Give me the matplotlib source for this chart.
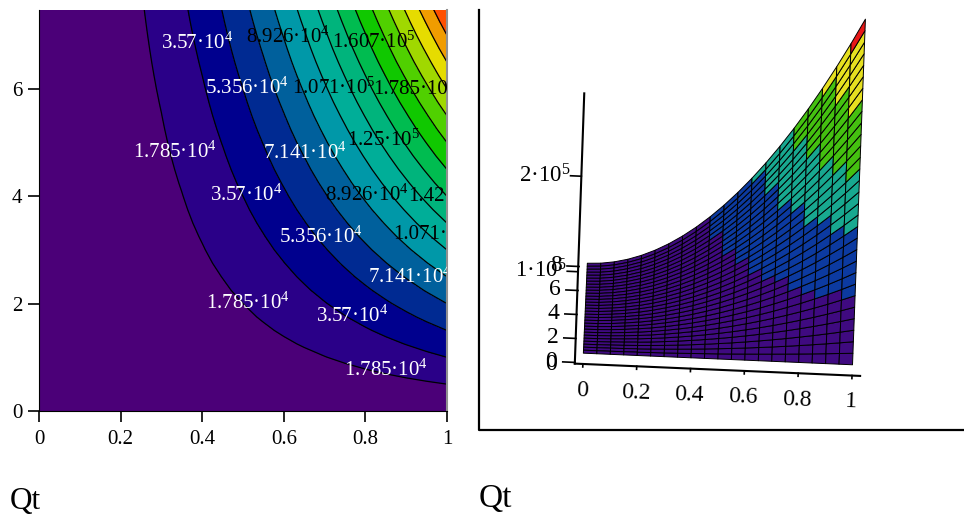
import numpy as np
import matplotlib
matplotlib.use('Agg')
import matplotlib.pyplot as plt
from matplotlib.lines import Line2D
from mpl_toolkits.mplot3d import proj3d

plt.rcParams['font.family'] = ['Liberation Serif', 'DejaVu Serif']
plt.rcParams['mathtext.default'] = 'regular'

W, H = 964, 516

# Values (Qt on x, second variable on y, z in thousands)
x_vals = [0, 0.05, 0.1, 0.15, 0.2, 0.25, 0.3, 0.35, 0.4, 0.45, 0.5, 0.55, 0.6, 0.65, 0.7, 0.75, 0.8, 0.85, 0.9, 0.95, 1]
y_vals = [0, 0.25, 0.5, 0.75, 1, 1.25, 1.5, 1.75, 2, 2.25, 2.5, 2.75, 3, 3.25, 3.5, 3.75, 4, 4.25, 4.5, 4.75, 5, 5.25,
          5.5, 5.75, 6, 6.25, 6.5, 6.75, 7, 7.25, 7.5]
z_vals = [
    [0, 0, 0, 0, 0, 0, 0, 0, 0, 0, 0, 0, 0, 0, 0, 0, 0, 0, 0, 0, 0],
    [0, .02, .09, .20, .36, .56, .80, 1.09, 1.43, 1.81, 2.23, 2.70, 3.21, 3.77, 4.37, 5.02, 5.71, 6.45, 7.23, 8.05, 8.93],
    [0, .04, .18, .40, .71, 1.12, 1.61, 2.19, 2.86, 3.61, 4.46, 5.40, 6.43, 7.54, 8.75, 10.04, 11.42, 12.90, 14.46, 16.11, 17.85],
    [0, .07, .27, .60, 1.07, 1.67, 2.41, 3.28, 4.28, 5.42, 6.69, 8.10, 9.64, 11.31, 13.12, 15.06, 17.14, 19.34, 21.69, 24.16, 26.78],
    [0, .09, .36, .80, 1.43, 2.23, 3.21, 4.37, 5.71, 7.23, 8.93, 10.80, 12.85, 15.08, 17.49, 20.08, 22.85, 25.79, 28.92, 32.22, 35.70],
    [0, .11, .45, 1.00, 1.79, 2.79, 4.02, 5.47, 7.14, 9.04, 11.16, 13.50, 16.07, 18.85, 21.87, 25.10, 28.56, 32.24, 36.15, 40.27, 44.63],
    [0, .13, .54, 1.20, 2.14, 3.35, 4.82, 6.56, 8.57, 10.84, 13.39, 16.20, 19.28, 22.62, 26.24, 30.12, 34.27, 38.69, 43.37, 48.33, 53.55],
    [0, .16, .62, 1.41, 2.50, 3.90, 5.62, 7.65, 10.00, 12.65, 15.62, 18.90, 22.49, 26.40, 30.61, 35.14, 39.98, 45.14, 50.60, 56.38, 62.48],
    [0, .18, .71, 1.61, 2.86, 4.46, 6.43, 8.75, 11.42, 14.46, 17.85, 21.60, 25.70, 30.17, 34.99, 40.16, 45.70, 51.59, 57.83, 64.44, 71.40],
    [0, .20, .80, 1.81, 3.21, 5.02, 7.23, 9.84, 12.85, 16.27, 20.08, 24.30, 28.92, 33.94, 39.36, 45.18, 51.41, 58.03, 65.06, 72.49, 80.33],
    [0, .22, .89, 2.01, 3.57, 5.58, 8.03, 10.93, 14.28, 18.07, 22.31, 27.00, 32.13, 37.71, 43.73, 50.20, 57.12, 64.48, 72.29, 80.55, 89.25],
    [0, .24, .98, 2.21, 3.93, 6.14, 8.84, 12.03, 15.71, 19.88, 24.54, 29.70, 35.34, 41.48, 48.11, 55.22, 62.83, 70.93, 79.52, 88.60, 98.18],
    [0, .27, 1.07, 2.41, 4.28, 6.69, 9.64, 13.12, 17.14, 21.69, 26.78, 32.40, 38.56, 45.25, 52.48, 60.24, 68.54, 77.38, 86.75, 96.66, 107.10],
    [0, .29, 1.16, 2.61, 4.64, 7.25, 10.44, 14.21, 18.56, 23.49, 29.01, 35.10, 41.77, 49.02, 56.85, 65.26, 74.26, 83.83, 93.98, 104.71, 116.03],
    [0, .31, 1.25, 2.81, 5.00, 7.81, 11.25, 15.31, 19.99, 25.30, 31.24, 37.80, 44.98, 52.79, 61.22, 70.28, 79.97, 90.27, 101.20, 112.80, 124.95],
    [0, .33, 1.34, 3.01, 5.36, 8.37, 12.05, 16.40, 21.42, 27.11, 33.47, 40.50, 48.20, 56.56, 65.60, 75.30, 85.68, 96.72, 108.44, 120.82, 133.88],
    [0, .36, 1.43, 3.21, 5.71, 8.93, 12.85, 17.49, 22.85, 28.92, 35.70, 43.20, 51.41, 60.33, 69.97, 80.33, 91.39, 103.20, 115.70, 128.90, 142.80],
    [0, .38, 1.52, 3.41, 6.07, 9.48, 13.66, 18.59, 24.28, 30.72, 37.93, 45.90, 54.62, 64.10, 74.35, 85.34, 97.10, 109.62, 122.90, 136.93, 151.73],
    [0, .40, 1.61, 3.61, 6.43, 10.04, 14.46, 19.68, 25.70, 32.53, 40.16, 48.60, 57.83, 67.87, 78.71, 90.36, 102.80, 116.10, 130.10, 145.00, 160.65],
    [0, .42, 1.70, 3.81, 6.78, 10.60, 15.26, 20.77, 27.13, 34.34, 42.39, 51.30, 61.05, 71.64, 83.09, 95.38, 108.53, 122.52, 137.36, 153.04, 169.58],
    [0, .45, 1.79, 4.02, 7.14, 11.16, 16.07, 21.87, 28.56, 36.15, 44.63, 54.00, 64.26, 75.41, 87.47, 100.40, 114.20, 129.00, 144.60, 161.10, 178.50],
    [0, .47, 1.87, 4.22, 7.50, 11.71, 16.87, 22.96, 29.99, 37.95, 46.86, 56.69, 67.47, 79.19, 91.84, 105.43, 119.95, 135.41, 151.81, 169.15, 187.43],
    [0, .49, 1.96, 4.42, 7.85, 12.27, 17.67, 24.05, 31.42, 39.76, 49.09, 59.40, 70.69, 82.96, 96.21, 110.40, 125.70, 141.90, 159.00, 177.20, 196.35],
    [0, .51, 2.05, 4.62, 8.21, 12.83, 18.47, 25.14, 32.84, 41.57, 51.32, 62.09, 73.90, 86.73, 100.58, 115.47, 131.38, 148.31, 166.27, 185.26, 205.28],
    [0, .54, 2.14, 4.82, 8.57, 13.39, 19.28, 26.24, 34.27, 43.37, 53.55, 64.80, 77.11, 90.50, 105.00, 120.50, 137.10, 154.80, 173.50, 193.30, 214.20],
    [0, .56, 2.23, 5.02, 8.93, 13.94, 20.08, 27.33, 35.70, 45.18, 55.78, 67.49, 80.33, 94.27, 109.33, 125.51, 142.80, 161.21, 180.73, 201.37, 223.13],
    [0, .58, 2.32, 5.22, 9.28, 14.51, 20.89, 28.43, 37.13, 46.99, 58.01, 70.20, 83.54, 98.04, 113.70, 130.50, 148.50, 167.70, 188.00, 209.40, 232.05],
    [0, .60, 2.41, 5.42, 9.64, 15.06, 21.69, 29.52, 38.56, 48.80, 60.24, 72.89, 86.75, 101.81, 118.08, 135.55, 154.22, 174.10, 195.19, 217.48, 240.98],
    [0, .62, 2.50, 5.62, 10.00, 15.62, 22.49, 30.61, 39.98, 50.60, 62.48, 75.60, 89.96, 105.60, 122.40, 140.60, 159.90, 180.60, 202.40, 225.50, 249.90],
    [0, .65, 2.59, 5.82, 10.35, 16.17, 23.29, 31.70, 41.41, 52.41, 64.71, 78.29, 93.18, 109.35, 126.82, 145.59, 165.65, 187.00, 209.65, 233.59, 258.83],
    [0, .67, 2.68, 6.02, 10.71, 16.73, 24.10, 32.80, 42.84, 54.21, 66.94, 81.00, 96.39, 113.10, 131.20, 150.60, 171.40, 193.50, 216.90, 241.60, 267.75],
]

contour_levels = [0, 17.85, 35.7, 53.55, 71.4, 89.25, 107.1, 124.95, 142.8, 160.65, 178.5, 196.35, 214.2, 232.05, 249.9, 267.75]
contour_colors = ['#4b0078', '#2a0088', '#00008e', '#002a92', '#00609c', '#0098a8', '#00ae98', '#00b47c', '#00bc50',
                  '#10c800', '#50d000', '#a0d800', '#e6dc00', '#f09c00', '#ff5000']

# Labels printed on the contours
label_text = ['3.57', '5.356', '1.785', '7.141', '3.57', '5.356', '7.141', '1.785', '3.57', '1.785',
              '8.926', '1.607', '1.071', '1.25', '8.926']
label_exp = [4, 4, 4, 4, 4, 4, 4, 4, 4, 4, 4, 5, 5, 5, 4]
label_x = [0.30, 0.407, 0.23, 0.55, 0.42, 0.589, 0.807, 0.41, 0.68, 0.748, 0.507, 0.718, 0.62, 0.755, 0.70]
label_y = [6.85, 6.01, 4.82, 4.80, 4.02, 3.24, 2.5, 2.0, 1.76, 0.76, 6.96, 6.87, 6.01, 5.05, 4.02]
label_color = ['white'] * 10 + ['black'] * 5
clipped_text = ['1.785·10', '1.42', '1.071·']
clipped_x = [0.82, 0.905, 0.867]
clipped_y = [5.98, 3.99, 3.28]

# Bands and ticks of the surface plot
band_levels = [0, 50, 100, 145, 195, 250, 300]
band_colors = ['#3f0a80', '#0c3aa0', '#18a890', '#44c010', '#e6e020', '#e81818']
x_ticks = [0, 0.2, 0.4, 0.6, 0.8, 1]
x_tick_labels = ['0', '0.2', '0.4', '0.6', '0.8', '1']
y_ticks3d = [0, 2, 4, 6, 8]
z_ticks3d = [100, 200]
z_tick_labels = ['1·10$^{5}$', '2·10$^{5}$']

X, Y = np.meshgrid(x_vals, y_vals)
Z = np.array(z_vals)

fig = plt.figure(figsize=(W / 100, H / 100), dpi=100, facecolor='white')

# Left: filled contour plot
ax = fig.add_axes([39 / W, 1 - 411 / H, 408 / W, 401 / H])
ax.contourf(X, Y, Z, levels=contour_levels, colors=contour_colors)
ax.contour(X, Y, Z, levels=contour_levels[1:], colors='black', linewidths=0.9)
ax.set_xlim(0, 1)
ax.set_ylim(0, 7.47)
ax.set_xticks(x_ticks)
ax.set_xticklabels(x_tick_labels)
ax.set_yticks([0, 2, 4, 6])
ax.tick_params(labelsize=15, length=8, width=1.2)
ax.tick_params(axis='x', pad=6)
ax.tick_params(axis='y', pad=4)
ax.spines['top'].set_visible(False)
ax.spines['right'].set_color('#909090')
ax.spines['right'].set_linewidth(1.5)

for t, e, lx, ly, c in zip(label_text, label_exp, label_x, label_y, label_color):
    ax.text(lx, ly, t + '·10$^{%d}$' % e, color=c, fontsize=15, ha='left', va='center', clip_on=True)
for t, lx, ly in zip(clipped_text, clipped_x, clipped_y):
    ax.text(lx, ly, t, color='black', fontsize=15, ha='left', va='center', clip_on=True)

# Right: surface plot
ax3 = fig.add_axes([479 / W, 1 - 396 / H, 480 / W, 0.85], projection='3d')
ax3.set_proj_type('ortho')
ax3.patch.set_alpha(0)
ax3.set_axis_off()
ax3.set_xlim(0, 1)
ax3.set_ylim(0, 7.5)
ax3.set_zlim(0, 300)
ax3.set_box_aspect((270, 96, 840), zoom=1.96)
ax3.view_init(elev=70, azim=-89.5, roll=-2)

z_cell = (Z[:-1, :-1] + Z[1:, :-1] + Z[:-1, 1:] + Z[1:, 1:]) / 4
band_idx = np.digitize(z_cell, band_levels) - 1
face = np.array([matplotlib.colors.to_rgba(band_colors[i]) for i in band_idx.ravel()]).reshape(z_cell.shape + (4,))
ax3.plot_surface(X, Y, Z, facecolors=face, rstride=1, cstride=1, edgecolor='black', linewidth=0.7, shade=False)

ax0, ay0, ay_tick = -0.03, -0.9, -0.8
ax3.plot([ax0, ax0], [ay0, ay0], [0, 283], color='black', lw=1.5)
ax3.plot([ax0, 1.03], [ay0, ay0], [0, 0], color='black', lw=1.5)
for t in x_ticks:
    ax3.plot([t, t], [ay0, ay0 - 0.25], [0, 0], color='black', lw=1.2)
for t in y_ticks3d:
    ax3.plot([ax0, ax0 - 0.045], [t + ay_tick, t + ay_tick], [0, 0], color='black', lw=1.2)
for t in z_ticks3d:
    ax3.plot([ax0, ax0 - 0.04], [ay0 - 0.3, ay0 - 0.3], [t, t], color='black', lw=1.2)


def label3d(x, y, z, s, **kw):
    # text placed at the projected position of a 3D point
    px, py, _ = proj3d.proj_transform(x, y, z, ax3.get_proj())
    ax3.annotate(s, (px, py), annotation_clip=False, **kw)


fig.canvas.draw()
for t, lab in zip(x_ticks, x_tick_labels):
    label3d(t, ay0 - 2.2, 0, lab, fontsize=17, ha='center', va='center', rotation=-2)
for t in y_ticks3d:
    label3d(ax0 - 0.065, t + ay_tick, 0, str(t), fontsize=17, ha='right', va='center')
for t, lab in zip(z_ticks3d, z_tick_labels):
    label3d(ax0 - 0.042, ay0 - 0.3, t, lab, fontsize=16.5, ha='right', va='center')
label3d(ax0 - 0.065, ay_tick - 0.2, 0, '0', fontsize=17, ha='right', va='center')

# Frame around the surface plot and the Qt captions
fig.add_artist(Line2D([478.5 / W, 478.5 / W, 1], [1 - 10 / H, 1 - 430 / H, 1 - 430 / H], color='black', lw=1.6))
fig.text(10 / W, 1 - 509 / H, 'Qt', fontsize=22.5, ha='left', va='baseline')
fig.text(479 / W, 1 - 507 / H, 'Qt', fontsize=24, ha='left', va='baseline')

fig.savefig('out.png', dpi=100)
